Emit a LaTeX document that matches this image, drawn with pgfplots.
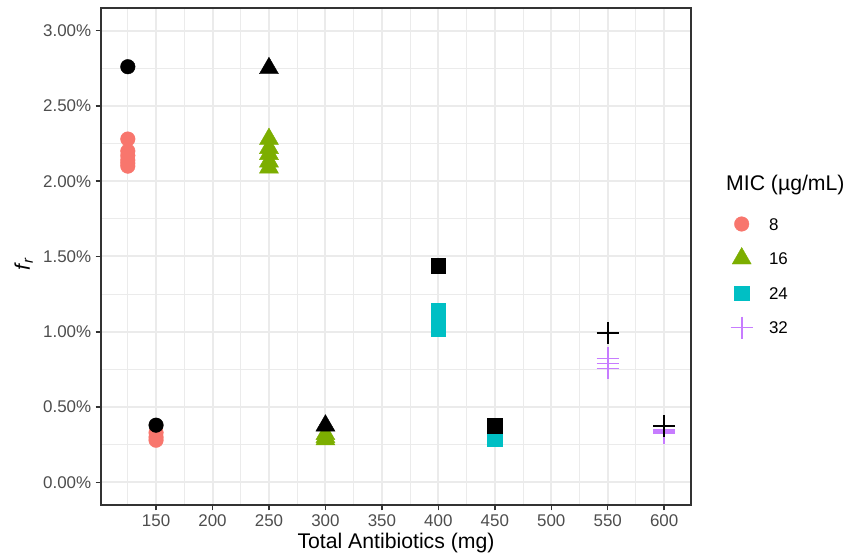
\documentclass[border=0pt]{standalone}
\usepackage{pgfplots}
\pgfplotsset{compat=1.18}
\usepackage{fontspec}
\setmainfont{Liberation Sans}
\definecolor{c8}{HTML}{F8766D}
\definecolor{c16}{HTML}{7CAE00}
\definecolor{c24}{HTML}{00BFC4}
\definecolor{c32}{HTML}{C77CFF}
\definecolor{grid92}{HTML}{EBEBEB}
\definecolor{grey20}{HTML}{333333}
\definecolor{grey30}{HTML}{4D4D4D}
\begin{document}
\begin{tikzpicture}
\path[use as bounding box] (-101bp,-50bp) rectangle (744bp,505bp);
\begin{axis}[
  at={(0,0)}, anchor=south west, name=ax,
  scale only axis, width=590bp, height=497bp,
  xmin=101.25, xmax=623.75, ymin=-0.15, ymax=3.15,
  xtick={150,200,...,600}, minor xtick={125,175,...,575},
  ytick={0,0.5,...,3}, minor ytick={0.25,0.75,...,2.75},
  grid=both,
  major grid style={draw=grid92, line width=2bp},
  minor grid style={draw=grid92, line width=1bp},
  tick align=outside, major tick length=5.3bp, minor tick length=0pt,
  xtick pos=left, ytick pos=left,
  tick style={draw=grey20, line width=1.5bp},
  axis line style={draw=grey20, line width=1.5bp},
  /pgf/number format/assume math mode=true,
  ticklabel style={font=\fontsize{17}{20}\selectfont, text=grey30, inner sep=0pt},
  xticklabel style={anchor=north, yshift=-4.3bp},
  yticklabel style={anchor=east, xshift=-4.3bp},
  yticklabel={\pgfmathprintnumber[fixed,fixed zerofill,precision=2]{\tick}\%},
  xticklabel={\pgfmathprintnumber[fixed,precision=0]{\tick}},
  xlabel={Total Antibiotics (mg)},
  xlabel style={at={(axis description cs:0.5,-0.0885)}, anchor=base, font=\fontsize{21.3}{24}\selectfont, inner sep=0pt},
  ylabel={\textit{f}\textsubscript{\textit{r}}},
  ylabel style={at={(axis description cs:-0.131,0.485)}, anchor=center, rotate=0, font=\fontsize{21.3}{24}\selectfont, inner sep=0pt},
  legend style={at={(axis description cs:1.0639,0.6001)}, anchor=north west, draw=none, fill=none,
    inner sep=0pt, outer sep=0pt, row sep=0pt,
    font=\fontsize{17}{20}\selectfont,
    nodes={inner sep=0pt, text height=12.2bp, text depth=0pt, anchor=west},
    /tikz/every odd column/.append style={column sep=14.3bp}},
  legend cell align=left,
  legend image code/.code={\path[draw=none,fill=none] (0bp,-17.25bp) rectangle (26bp,17.25bp); \draw[#1] plot coordinates {(13bp,0bp)};},
]
\addplot[only marks, mark=*, mark size=7.3bp, color=c8, line width=0.4bp] coordinates {
(125,2.28) (125,2.20) (125,2.17) (125,2.14) (125,2.12) (125,2.10)
(150,0.33) (150,0.30) (150,0.28)};
\addlegendentry{8}
\addplot[only marks, mark=triangle*, mark size=11bp, color=c16, line width=0.4bp] coordinates {
(250,2.28) (250,2.22) (250,2.18) (250,2.13) (250,2.09)
(300,0.32) (300,0.30) (300,0.285)};
\addlegendentry{16}
\addplot[only marks, mark=square*, mark size=7.2bp, color=c24, line width=0.4bp] coordinates {
(400,1.14) (400,1.10) (400,1.06) (400,1.02)
(450,0.32) (450,0.30) (450,0.285)};
\addlegendentry{24}
\addplot[only marks, mark=+, mark size=11bp, color=c32, line width=1.6bp] coordinates {
(550,0.823) (550,0.79) (550,0.757)
(600,0.35) (600,0.34) (600,0.33)};
\addlegendentry{32}
\addplot[only marks, mark=*, mark size=7.3bp, color=black, line width=0.4bp, forget plot] coordinates {
(125,2.76) (150,0.38)};
\addplot[only marks, mark=triangle*, mark size=11bp, color=black, line width=0.4bp, forget plot] coordinates {
(250,2.75) (300,0.377)};
\addplot[only marks, mark=square*, mark size=7.2bp, color=black, line width=0.4bp, forget plot] coordinates {
(400,1.44) (450,0.376)};
\addplot[only marks, mark=+, mark size=11bp, color=black, line width=1.6bp, forget plot] coordinates {
(550,0.993) (600,0.375)};
\end{axis}
\node[anchor=base west, inner sep=0pt, font=\fontsize{21.3}{24}\selectfont] at (625bp,314.6bp) {MIC (µg/mL)};
\end{tikzpicture}
\end{document}
